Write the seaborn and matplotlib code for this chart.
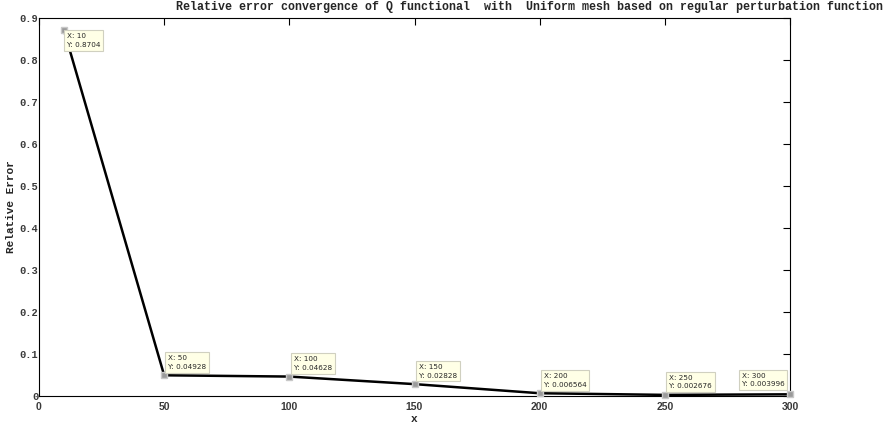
import matplotlib
matplotlib.use("Agg")
import matplotlib.pyplot as plt
import seaborn as sns
import pandas as pd

# Mesh sizes and relative error of the Q functional
mesh_n = [10, 50, 100, 150, 200, 250, 300]
rel_error = [0.8704, 0.04928, 0.04628, 0.02828, 0.006564, 0.002676, 0.003996]
tip_y_text = ["0.8704", "0.04928", "0.04628", "0.02828", "0.006564", "0.002676", "0.003996"]
x_ticks = [0, 50, 100, 150, 200, 250, 300]
y_ticks = [0, 0.1, 0.2, 0.3, 0.4, 0.5, 0.6, 0.7, 0.8, 0.9]

sns.set_style("white")
plt.rcParams["font.family"] = ["Liberation Mono", "DejaVu Sans Mono"]

df = pd.DataFrame({"x": mesh_n, "err": rel_error})

fig = plt.figure(figsize=(8.85, 4.28), dpi=100)
ax = fig.add_axes([39 / 885, 1 - 396 / 428, (790 - 39) / 885, (396 - 18) / 428])

sns.lineplot(data=df, x="x", y="err", ax=ax, color="black", linewidth=1.8)
ax.plot(df["x"], df["err"], linestyle="none", marker="s", markersize=4,
        markerfacecolor="#9a9a9a", markeredgecolor="#c8c8c8", zorder=5, clip_on=False)

# data tips: offset in points and anchor for each tip
tip_offsets = [(2, -2, "left", "top"), (3, 4, "left", "bottom"), (3, 4, "left", "bottom"),
               (3, 4, "left", "bottom"), (3, 4, "left", "bottom"), (3, 4, "left", "bottom"),
               (-4, 5, "right", "bottom")]
for xv, yv, lab, (dx, dy, ha, va) in zip(mesh_n, rel_error, tip_y_text, tip_offsets):
    ax.annotate(f"X: {xv}\nY: {lab}", xy=(xv, yv), xytext=(dx, dy), textcoords="offset points",
                ha=ha, va=va, multialignment="left", fontsize=5.2, family="DejaVu Sans",
                linespacing=1.55,
                bbox=dict(boxstyle="square,pad=0.4", fc="#ffffe6", ec="#d0d0c0", lw=0.8),
                zorder=6)

ax.set_xlim(0, 300)
ax.set_ylim(0, 0.9)
ax.set_xticks(x_ticks)
ax.set_yticks(y_ticks)
ax.set_yticklabels(["0"] + [f"{v:.1f}" for v in y_ticks[1:]])
ax.tick_params(direction="in", length=5, width=0.8, top=True, right=True, colors="black")
ax.tick_params(axis="y", pad=0.5)
ax.tick_params(axis="x", pad=4)
for lbl in ax.get_xticklabels():
    lbl.set_family(["Liberation Sans", "DejaVu Sans"])
    lbl.set_fontweight("bold")
    lbl.set_fontsize(7.5)
    lbl.set_color("#3a3a3a")
for lbl in ax.get_yticklabels():
    lbl.set_fontweight("bold")
    lbl.set_fontsize(7.5)
    lbl.set_color("#3a3a3a")
for s in ax.spines.values():
    s.set_visible(True)
    s.set_color("black")
    s.set_linewidth(0.8)

ax.set_xlabel("x", fontsize=8, fontweight="bold", labelpad=2)
ax.set_ylabel("Relative Error", fontsize=8, fontweight="bold")
ax.yaxis.set_label_coords((16 - 39) / 751, 0.5)
fig.text(530 / 885, 1 - 7 / 428, "Relative error convergence of Q functional  with  Uniform mesh based on regular perturbation function",
         ha="center", va="center", fontsize=8.4, fontweight="bold")

fig.savefig("out.png", dpi=100)
